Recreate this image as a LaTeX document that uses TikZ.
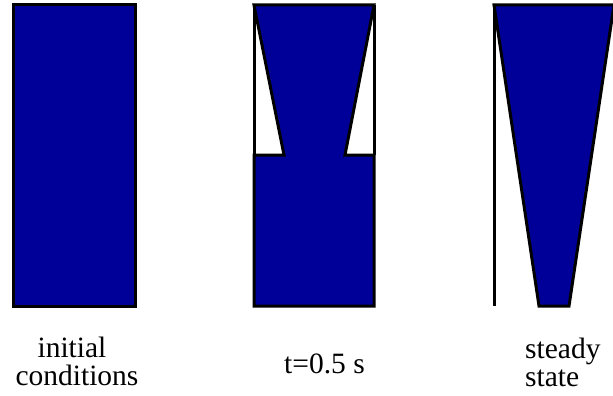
\documentclass[tikz,border=0pt]{standalone}
\usepackage{fontspec}
\setmainfont{Liberation Serif}
\definecolor{fillblue}{RGB}{0,0,153}
\tikzset{
  shapefill/.style={fill=fillblue, draw=black, line width=3pt},
  edge/.style={draw=black, line width=3pt},
  caption/.style={font=\fontsize{29.5}{28}\selectfont, inner sep=0pt}
}
\begin{document}
\begin{tikzpicture}[x=1pt,y=-1pt]
\useasboundingbox (0,0) rectangle (613,396);
% initial conditions
\draw[shapefill] (13,5) rectangle (135,306);
% t = 0.5 s
\draw[shapefill] (254,5) -- (374,5) -- (345,155) -- (374,155) -- (374,306)
  -- (254,306) -- (254,155) -- (284,155) -- cycle;
\draw[edge] (254,5) -- (254,155);
\draw[edge] (374,5) -- (374,155);
% steady state
\draw[edge] (494,5) -- (494,306);
\draw[shapefill] (494,5) -- (614,5) -- (569,306) -- (539,306) -- cycle;
% captions
\node[caption, anchor=base] (l1) at (72,357) {initial};
\node[caption, anchor=base] (l2) at (77,385) {conditions};
\node[caption, anchor=base west] (m1) at (284,373) {t=0.5 s};
\node[caption, anchor=base west] (r1) at (525,358) {steady};
\node[caption, anchor=base west] (r2) at (525,386) {state};
\end{tikzpicture}
\end{document}
